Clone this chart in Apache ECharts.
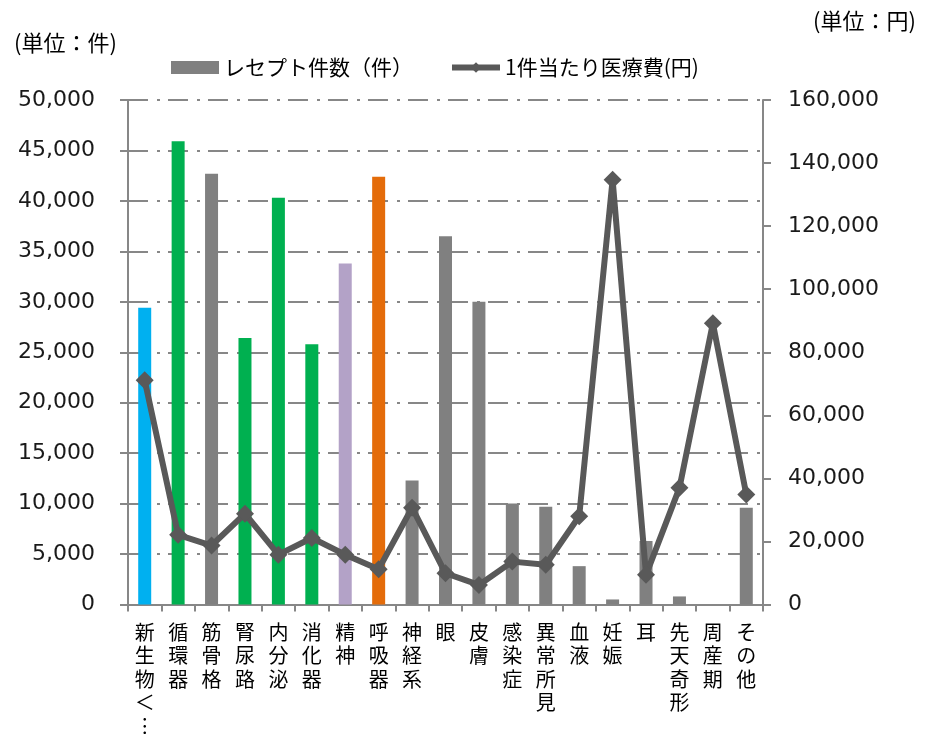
<!DOCTYPE html>
<html>
<head>
<meta charset="utf-8">
<script src="https://cdn.jsdelivr.net/npm/echarts@6/dist/echarts.min.js"></script>
<style>
  html, body { margin: 0; padding: 0; background: #fff; }
  #chart { width: 935px; height: 738px; }
</style>
</head>
<body>
<div id="chart"></div>
<script>
// 疾病分類別 レセプト件数と1件当たり医療費
const categories = ['新生物＜…', '循環器', '筋骨格', '腎尿路', '内分泌', '消化器', '精神', '呼吸器', '神経系', '眼', '皮膚', '感染症', '異常所見', '血液', '妊娠', '耳', '先天奇形', '周産期', 'その他'];
// 縦書き表示用ラベル
const categoryLabels = ['新生物＜︙', '循環器', '筋骨格', '腎尿路', '内分泌', '消化器', '精神', '呼吸器', '神経系', '眼', '皮膚', '感染症', '異常所見', '血液', '妊娠', '耳', '先天奇形', '周産期', 'その他'];
const receiptCounts = [29400, 45900, 42700, 26400, 40300, 25800, 33800, 42400, 12300, 36500, 30000, 10000, 9700, 3800, 500, 6300, 800, 0, 9600];
const costPerReceipt = [71100, 22100, 18700, 28800, 15800, 21100, 15800, 11200, 30700, 9900, 6200, 13600, 12600, 28000, 134700, 9400, 37000, 89200, 34900];
const barColors = ['#00B0F0', '#00B050', '#808080', '#00B050', '#00B050', '#00B050', '#B3A2C7', '#E46C0A', '#808080', '#808080', '#808080', '#808080', '#808080', '#808080', '#808080', '#808080', '#808080', '#808080', '#808080'];
const leftTicks = { min: 0, max: 50000, interval: 5000 };
const rightTicks = { min: 0, max: 160000, interval: 20000 };

const FONT = '"Noto Sans CJK JP", "Noto Sans", sans-serif';
const NUM_FONT = '"DejaVu Sans", "Noto Sans", sans-serif';
const fmt = v => v.toLocaleString('en-US');
const labelMap = {};
categories.forEach((c, i) => { labelMap[c] = categoryLabels[i].split('').join('\n'); });

const chart = echarts.init(document.getElementById('chart'), null, { renderer: 'canvas' });
chart.setOption({
  animation: false,
  backgroundColor: '#ffffff',
  textStyle: { fontFamily: FONT, color: '#000' },
  grid: { left: 128, right: 172, top: 100, bottom: 130, containLabel: false },
  graphic: [
    { type: 'text', left: 14, top: 32, style: { text: '(単位：件)', font: '22px ' + FONT, fill: '#000' } },
    { type: 'text', left: 813, top: 10, style: { text: '(単位：円)', font: '22px ' + FONT, fill: '#000' } }
  ],
  legend: {
    top: 52,
    left: 166,
    itemGap: 36,
    itemWidth: 48,
    itemHeight: 13,
    textStyle: { fontSize: 21, fontFamily: FONT, color: '#000' },
    data: [
      { name: 'レセプト件数（件）', icon: 'rect', itemStyle: { color: '#808080' } },
      { name: '1件当たり医療費(円)', lineStyle: { width: 6, color: '#595959' }, itemStyle: { color: '#595959' } }
    ]
  },
  xAxis: {
    type: 'category',
    data: categories,
    boundaryGap: true,
    axisLine: { lineStyle: { color: '#878787', width: 2 } },
    axisTick: { show: true, alignWithLabel: false, length: 7, lineStyle: { color: '#878787', width: 2 } },
    axisLabel: {
      interval: 0,
      margin: 16,
      fontSize: 20,
      lineHeight: 23.5,
      verticalAlign: 'top',
      color: '#000',
      fontFamily: FONT,
      formatter: v => labelMap[v]
    }
  },
  yAxis: [
    {
      type: 'value',
      min: leftTicks.min, max: leftTicks.max, interval: leftTicks.interval,
      position: 'left',
      axisLine: { show: true, lineStyle: { color: '#878787', width: 2 } },
      axisTick: { show: true, length: 8, lineStyle: { color: '#878787', width: 2 } },
      axisLabel: { fontSize: 22, color: '#1a1a1a', margin: 33, formatter: fmt, fontFamily: NUM_FONT },
      splitLine: { show: true, lineStyle: { color: '#878787', width: 2, type: [20, 9, 3, 8] } }
    },
    {
      type: 'value',
      min: rightTicks.min, max: rightTicks.max, interval: rightTicks.interval,
      position: 'right',
      axisLine: { show: true, lineStyle: { color: '#878787', width: 2 } },
      axisTick: { show: true, length: 8, lineStyle: { color: '#878787', width: 2 } },
      axisLabel: { fontSize: 22, color: '#1a1a1a', margin: 25, formatter: fmt, fontFamily: NUM_FONT },
      splitLine: { show: false }
    }
  ],
  series: [
    {
      name: 'レセプト件数（件）',
      type: 'bar',
      yAxisIndex: 0,
      barWidth: 13,
      itemStyle: { color: '#808080' },
      data: receiptCounts.map((v, i) => ({ value: v, itemStyle: { color: barColors[i] } }))
    },
    {
      name: '1件当たり医療費(円)',
      type: 'line',
      yAxisIndex: 1,
      data: costPerReceipt,
      symbol: 'diamond',
      symbolSize: 18,
      lineStyle: { color: '#595959', width: 6 },
      itemStyle: { color: '#595959' },
      z: 5
    }
  ]
});
</script>
</body>
</html>
